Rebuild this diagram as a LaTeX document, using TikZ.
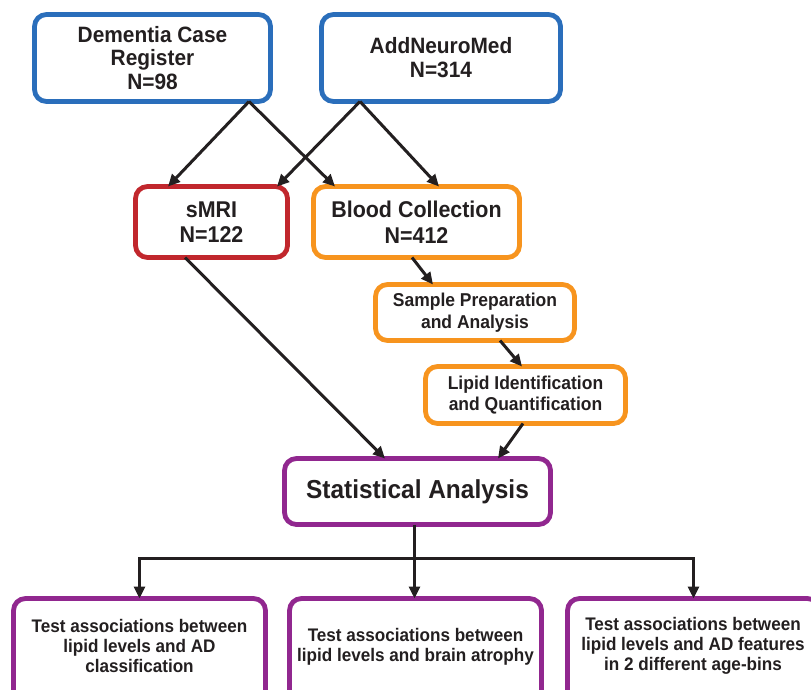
\documentclass[tikz,border=0pt]{standalone}
\usepackage{fontspec}
\setmainfont{Liberation Sans}[FakeStretch=0.94]
\usetikzlibrary{arrows.meta}
\definecolor{cblue}{HTML}{2A6EBB}
\definecolor{cred}{HTML}{C1272D}
\definecolor{corange}{HTML}{F7941E}
\definecolor{cpurple}{HTML}{91278F}
\definecolor{ctext}{HTML}{231F20}
\tikzset{
  box/.style={draw, line width=4.8pt, rounded corners=12pt, fill=white, align=center,
    inner sep=0pt, outer sep=0pt, text=ctext, font=\bfseries},
  arr/.style={-{Triangle[length=12pt,width=11pt]}, line width=3pt, draw=ctext},
  ln/.style={line width=3pt, draw=ctext}
}
\begin{document}
\begin{tikzpicture}[x=1pt,y=-1pt]
\useasboundingbox (0,0) rectangle (811,690);
\clip (0,0) rectangle (811,690);
\fill[white] (0,0) rectangle (811,690);
% top
\node[box, draw=cblue, minimum width=236pt, minimum height=87pt, font=\bfseries\fontsize{22.2}{23.5}\selectfont] (dcr) at (152.5,58) {Dementia Case\\Register\\N=98};
\node[box, draw=cblue, minimum width=239pt, minimum height=87pt, font=\bfseries\fontsize{22.2}{24}\selectfont] (anm) at (441,58) {AddNeuroMed\\N=314};
% second row
\node[box, draw=cred, minimum width=152pt, minimum height=71pt, font=\bfseries\fontsize{22.8}{25}\selectfont] (smri) at (211.5,222) {sMRI\\N=122};
\node[box, draw=corange, minimum width=206pt, minimum height=71pt, font=\bfseries\fontsize{22.8}{26}\selectfont] (blood) at (416.5,222) {Blood Collection\\N=412};
% lipid pipeline
\node[box, draw=corange, minimum width=199pt, minimum height=56pt, font=\bfseries\fontsize{18.6}{21.5}\selectfont] (samp) at (475,312.5) {Sample Preparation\\and Analysis};
\node[box, draw=corange, minimum width=200pt, minimum height=57pt, font=\bfseries\fontsize{18.6}{20.5}\selectfont] (lipid) at (525.5,395) {Lipid Identification\\and Quantification};
% statistical analysis
\node[box, draw=cpurple, minimum width=266pt, minimum height=66pt, font=\bfseries\fontsize{26}{28}\selectfont] (stat) at (417.5,491.5) {Statistical Analysis};
% bottom boxes
\node[box, draw=cpurple, minimum width=252pt, minimum height=130pt, anchor=north] (b1) at (139.5,598.5) {};
\node[box, draw=cpurple, minimum width=252pt, minimum height=130pt, anchor=north] (b2) at (415.5,598.5) {};
\node[box, draw=cpurple, minimum width=252pt, minimum height=130pt, anchor=north] (b3) at (693.5,598.5) {};
\node[align=center, text=ctext, font=\bfseries\fontsize{18.2}{20}\selectfont] (b1t) at (139.5,646) {Test associations between\\lipid levels and AD\\classification};
\node[align=center, text=ctext, font=\bfseries\fontsize{18.2}{20}\selectfont] (b2t) at (415.5,647) {Test associations between\\lipid levels and brain atrophy};
\node[align=center, text=ctext, font=\bfseries\fontsize{18.2}{20}\selectfont] (b3t) at (693,646) {Test associations between\\lipid levels and AD features\\in 2 different age-bins};
% arrows top
\draw[arr] ([xshift=96.5pt]dcr.south) -- ([xshift=-43.5pt]smri.north);
\draw[arr] ([xshift=96.5pt]dcr.south) -- ([xshift=-81.5pt]blood.north);
\draw[arr] ([xshift=-81pt]anm.south) -- ([xshift=65.5pt]smri.north);
\draw[arr] ([xshift=-81pt]anm.south) -- ([xshift=22.5pt]blood.north);
% middle arrows
\draw[arr] ([xshift=-26.5pt]smri.south) -- ([xshift=-32.5pt]stat.north);
\draw[arr] ([xshift=-4.5pt]blood.south) -- ([xshift=-42pt]samp.north);
\draw[arr] ([xshift=25pt]samp.south) -- ([xshift=-3.5pt]lipid.north);
\draw[arr] ([xshift=-2.5pt]lipid.south) -- ([xshift=80.5pt]stat.north);
% bottom split
\path ([xshift=-3pt]stat.south) ++(0,33.5) coordinate (j);
\draw[ln] ([xshift=-3pt]stat.south) -- (j);
\draw[arr] (j) -| (b1.north);
\draw[arr] (j) -| (b3.north);
\draw[arr] (j) -- (j |- b2.north);
\end{tikzpicture}
\end{document}
